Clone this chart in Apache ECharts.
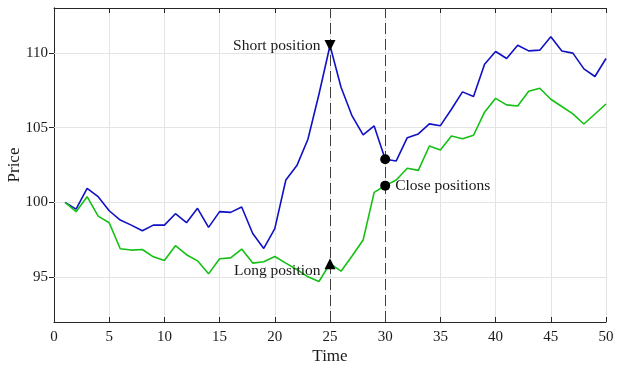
<!DOCTYPE html>
<html>
<head>
<meta charset="utf-8" />
<title></title>
<script type="text/javascript" src="https://cdn.jsdelivr.net/npm/echarts@6/dist/echarts.min.js"></script>
</head>
<body style="margin:0;">
<div id="main" style="width:623px;height:365px;"></div>
<script type="text/javascript">
// time steps
var time = [1, 2, 3, 4, 5, 6, 7, 8, 9, 10,
	11, 12, 13, 14, 15, 16, 17, 18, 19, 20,
	21, 22, 23, 24, 25, 26, 27, 28, 29, 30,
	31, 32, 33, 34, 35, 36, 37, 38, 39, 40,
	41, 42, 43, 44, 45, 46, 47, 48, 49, 50];
// blue price series
var priceA = [100.0, 99.55, 100.94, 100.38, 99.44, 98.82, 98.48, 98.10, 98.48, 98.48,
	99.24, 98.64, 99.60, 98.33, 99.38, 99.33, 99.69, 97.92, 96.92, 98.24,
	101.50, 102.46, 104.22, 107.23, 110.49, 107.70, 105.78, 104.51, 105.11, 102.88,
	102.77, 104.33, 104.58, 105.25, 105.13, 106.23, 107.39, 107.08, 109.24, 110.09,
	109.62, 110.51, 110.13, 110.18, 111.07, 110.13, 109.98, 108.93, 108.42, 109.62];
// green price series
var priceB = [100.0, 99.38, 100.38, 99.08, 98.64, 96.90, 96.81, 96.85, 96.36, 96.12,
	97.10, 96.50, 96.09, 95.22, 96.23, 96.29, 96.88, 95.94, 96.03, 96.38,
	95.94, 95.51, 95.02, 94.71, 95.90, 95.40, 96.41, 97.48, 100.67, 101.12,
	101.50, 102.28, 102.14, 103.77, 103.50, 104.44, 104.26, 104.49, 106.03, 106.96,
	106.52, 106.45, 107.43, 107.63, 106.90, 106.41, 105.92, 105.24, 105.91, 106.58];
var yTicks = [95, 100, 105, 110];
var openTime = 25;
var closeTime = 30;

var font = '"Liberation Serif", "DejaVu Serif", serif';
var axisColor = '#262626';
var textColor = '#1a1a1a';
var gridColor = '#e4e4e4';

function pairs(vals) {
	return time.map(function (t, i) { return [t, vals[i]]; });
}
var oi = time.indexOf(openTime), ci = time.indexOf(closeTime);

var chart = echarts.init(document.getElementById('main'));
chart.setOption({
	backgroundColor: '#fff',
	animation: false,
	grid: { left: 54, right: 17, top: 8, bottom: 43, show: false, containLabel: false, outerBoundsMode: 'none' },
	xAxis: [{
		type: 'value', min: 0, max: 50, interval: 5,
		name: 'Time', nameLocation: 'middle', nameGap: 26, nameMoveOverlap: false,
		nameTextStyle: { fontFamily: font, fontSize: 17, color: textColor },
		axisLine: { lineStyle: { color: axisColor } },
		axisTick: { inside: true, length: 5, lineStyle: { color: axisColor } },
		axisLabel: { fontFamily: font, fontSize: 15, color: textColor, margin: 8 },
		splitLine: { show: true, lineStyle: { color: gridColor } }
	}, {
		type: 'value', min: 0, max: 50, interval: 5, position: 'top',
		axisLine: { lineStyle: { color: axisColor } },
		axisTick: { inside: true, length: 5, lineStyle: { color: axisColor } },
		axisLabel: { show: false },
		splitLine: { show: false }
	}],
	yAxis: [{
		type: 'value', min: 92, max: 113,
		name: 'Price', nameLocation: 'middle', nameGap: 31, nameMoveOverlap: false,
		nameTextStyle: { fontFamily: font, fontSize: 17, color: textColor },
		axisLine: { show: true, lineStyle: { color: axisColor } },
		axisTick: { show: true, inside: true, length: 5, customValues: yTicks, lineStyle: { color: axisColor } },
		axisLabel: { fontFamily: font, fontSize: 15, color: textColor, margin: 6, customValues: yTicks },
		splitLine: { show: false }
	}, {
		type: 'value', min: 92, max: 113, position: 'right',
		axisLine: { show: true, lineStyle: { color: axisColor } },
		axisTick: { show: true, inside: true, length: 5, customValues: yTicks, lineStyle: { color: axisColor } },
		axisLabel: { show: false, customValues: yTicks },
		splitLine: { show: false }
	}],
	series: [{
		// horizontal grid lines
		type: 'line', data: [], silent: true, z: 1,
		markLine: {
			silent: true, symbol: 'none', z: 1, label: { show: false },
			lineStyle: { color: gridColor, type: 'solid', width: 1 },
			data: yTicks.map(function (v) { return { yAxis: v }; })
		}
	}, {
		// position lines
		type: 'line', data: [], silent: true, z: 3,
		markLine: {
			silent: true, symbol: 'none', z: 3, label: { show: false },
			lineStyle: { color: '#404040', type: [11, 5], width: 1 },
			data: [{ xAxis: openTime }, { xAxis: closeTime }]
		}
	}, {
		name: 'A', type: 'line', data: pairs(priceA), showSymbol: false, z: 4,
		lineStyle: { color: '#1010c4', width: 1.6 }
	}, {
		name: 'B', type: 'line', data: pairs(priceB), showSymbol: false, z: 4,
		lineStyle: { color: '#14c014', width: 1.6 }
	}, {
		type: 'scatter', z: 6,
		itemStyle: { color: '#000', opacity: 1 },
		label: { show: true, fontFamily: font, fontSize: 15.5, color: textColor },
		data: [
			{ value: [openTime, priceA[oi]], symbol: 'triangle', symbolRotate: 180, symbolSize: 11,
				label: { position: 'left', distance: 4, formatter: 'Short position' } },
			{ value: [openTime, priceB[oi]], symbol: 'triangle', symbolSize: 11,
				label: { position: 'left', distance: 4, offset: [0, 7], formatter: 'Long position' } },
			{ value: [closeTime, priceA[ci]], symbol: 'circle', symbolSize: 10,
				label: { show: false } },
			{ value: [closeTime, priceB[ci]], symbol: 'circle', symbolSize: 10,
				label: { position: 'right', distance: 5, formatter: 'Close positions' } }
		]
	}]
});
</script>
</body>
</html>
